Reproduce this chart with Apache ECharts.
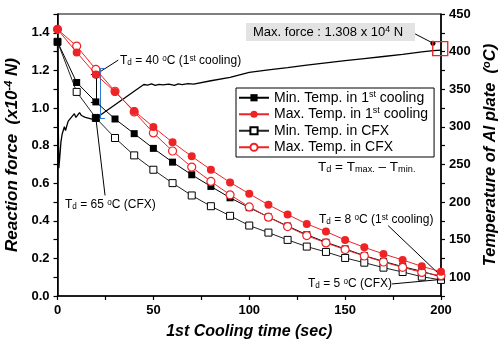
<!DOCTYPE html>
<html>
<head>
<meta charset="utf-8">
<script src="https://cdn.jsdelivr.net/npm/echarts@6/dist/echarts.min.js"></script>
<style>
  html, body { margin: 0; padding: 0; background: #fff; }
  #chart { width: 498px; height: 343px; }
</style>
</head>
<body>
<div id="chart"></div>
<script>
// sampling times of the temperature probes (sec)
const timeSec = [0, 10, 20, 30, 40, 50, 60, 70, 80, 90, 100, 110, 120, 130, 140, 150, 160, 170, 180, 190, 200];

// plate temperatures (deg C), right axis
const minTemp1st = [413, 358.9, 333.1, 310.4, 290.9, 271.3, 253, 236.2, 220.7, 205.6, 192.5, 180, 168, 156.5, 146.4, 137.6, 128.7, 121, 114, 107.8, 100.5];
const maxTemp1st = [429.6, 398.9, 369.6, 346.4, 321.1, 299.8, 279.3, 260.7, 242.9, 226, 211, 196.2, 183.3, 170.9, 160.7, 149.5, 139.8, 130.9, 122.9, 114.4, 107.3];
const minTempCFX = [413, 346.4, 311.8, 285.1, 262, 242.9, 225.1, 208.7, 194.4, 181.6, 168.7, 159.3, 149.6, 140.7, 133.6, 125.6, 119.3, 112.7, 106.9, 100.7, 96.4];
const maxTempCFX = [429.6, 407.3, 376.3, 347.3, 319.8, 291.8, 267.8, 246.4, 227.3, 209.6, 193.5, 179.8, 167.3, 155.3, 145.6, 136.7, 128.2, 120.2, 113.1, 106.4, 102];

// measured reaction force (x10^4 N), left axis
const forceTime = [0, 0.3, 0.7, 1.2, 1.8, 2.4, 3, 3.6, 4.2, 5, 5.6, 6.4, 7.2, 8, 8.8, 9.6, 10.5, 11.5, 12.5, 13.5, 14.5, 15.5, 16.5, 17.5, 18.5, 19.5, 20,
  45, 47, 49, 51, 53, 55, 58, 61, 63, 65, 68, 71, 72, 80, 90, 100, 110, 120, 130, 140, 150, 160, 170, 180, 190, 196, 200];
const forceValue = [1.34, 1.0, 0.68, 0.74, 0.82, 0.86, 0.88, 0.9, 0.88, 0.91, 0.93, 0.92, 0.95, 0.94, 0.97, 0.95, 0.96, 0.975, 0.96, 0.965, 0.95, 0.94, 0.945, 0.955, 0.94, 0.95, 0.945,
  1.125, 1.122, 1.128, 1.12, 1.126, 1.123, 1.127, 1.12, 1.128, 1.124, 1.13, 1.127, 1.132, 1.145, 1.163, 1.19, 1.203, 1.215, 1.228, 1.24, 1.252, 1.263, 1.274, 1.285, 1.298, 1.305, 1.308];

// tick labels
const xTicks = [0, 50, 100, 150, 200];
const forceTicks = ["0.0", "0.2", "0.4", "0.6", "0.8", "1.0", "1.2", "1.4"];
const tempTicks = [100, 150, 200, 250, 300, 350, 400, 450];

const FONT = "Liberation Sans, Arial, sans-serif";
const RED = "#ee2326";

const pairs = (xs, ys) => xs.map((x, i) => [x, ys[i]]);

const supSub = (size) => ({
  sup: { fontSize: size * 0.68, fontFamily: FONT, verticalAlign: "top", lineHeight: size * 0.8, fill: "#000", color: "#000" },
  sub: { fontSize: size * 0.68, fontFamily: FONT, verticalAlign: "bottom", lineHeight: size * 0.6, fill: "#000", color: "#000" },
});

const chart = echarts.init(document.getElementById("chart"));

const leader = (a, b) => [{ coord: a }, { coord: b }];
const lineMark = (segments, color) => ({
  silent: true,
  symbol: ["none", "none"],
  label: { show: false },
  emphasis: { disabled: true },
  lineStyle: { type: "solid", color: color, width: 1 },
  data: segments,
});

const tag = (x, y, text, size) => ({
  type: "text",
  x: x,
  y: y,
  style: {
    text: text,
    fontSize: size,
    fontFamily: FONT,
    fill: "#000",
    verticalAlign: "middle",
    rich: supSub(size),
  },
  z: 50,
});

const option = {
  animation: false,
  grid: {
    left: 57.5, right: 57, top: 14, bottom: 47,
    outerBoundsMode: "none",
    containLabel: false,
    show: true, borderColor: "#000", borderWidth: 1,
  },
  legend: {
    data: ["Min. Temp. in 1st cooling", "Max. Temp. in 1st cooling", "Min. Temp. in CFX", "Max. Temp. in CFX"],
    orient: "vertical",
    left: 236,
    top: 88,
    padding: [2, 6, 2, 2],
    itemWidth: 30,
    itemHeight: 9,
    itemGap: 1,
    borderColor: "#000",
    borderWidth: 1,
    selectedMode: false,
    formatter: (name) => name.replace("1st", "1{sup|st}"),
    textStyle: {
      fontFamily: FONT,
      fontSize: 14,
      color: "#000",
      lineHeight: 15.5,
      rich: { sup: { fontSize: 9, fontFamily: FONT, color: "#000", verticalAlign: "top", lineHeight: 10 } },
    },
  },
  xAxis: {
    type: "value",
    min: 0,
    max: 200,
    interval: 25,
    name: "1st Cooling time (sec)",
    nameLocation: "middle",
    nameGap: 28,
    nameTextStyle: { fontFamily: FONT, fontSize: 16, fontWeight: "bold", fontStyle: "italic", color: "#000" },
    axisLine: { onZero: false, lineStyle: { color: "#000", width: 1.6 } },
    axisTick: { length: 4, lineStyle: { color: "#000", width: 1.2 } },
    axisLabel: {
      margin: 8,
      color: "#000",
      fontFamily: FONT,
      fontSize: 13,
      fontWeight: "bold",
      formatter: (v) => (xTicks.includes(v) ? String(v) : ""),
    },
    splitLine: { show: false },
  },
  yAxis: [
    {
      type: "value",
      min: 0,
      max: 1.5,
      interval: 0.1,
      name: "Reaction force  (x10{sup|-4} N)",
      nameLocation: "middle",
      nameGap: 31,
      nameTextStyle: {
        fontFamily: FONT, fontSize: 17, fontWeight: "bold", fontStyle: "italic", color: "#000",
        rich: { sup: { fontFamily: FONT, fontSize: 11, fontWeight: "bold", fontStyle: "italic", color: "#000", verticalAlign: "top", lineHeight: 12 } },
      },
      axisLine: { show: true, onZero: false, lineStyle: { color: "#000", width: 1.6 } },
      axisTick: { show: true, length: 4, lineStyle: { color: "#000", width: 1.2 } },
      axisLabel: {
        margin: 8,
        color: "#000",
        fontFamily: FONT,
        fontSize: 13,
        fontWeight: "bold",
        formatter: (v) => {
          const s = v.toFixed(1);
          return forceTicks.includes(s) && Math.abs(v * 10 - Math.round(v * 10)) < 1e-6 ? s : "";
        },
      },
      splitLine: { show: false },
    },
    {
      type: "value",
      min: 75,
      max: 450,
      interval: 25,
      position: "right",
      name: "Temperature of Al plate  ({sup|o}C)",
      nameLocation: "middle",
      nameGap: 35,
      nameRotate: 90,
      nameTextStyle: {
        fontFamily: FONT, fontSize: 16.5, fontWeight: "bold", fontStyle: "italic", color: "#000",
        rich: { sup: { fontFamily: FONT, fontSize: 11, fontWeight: "bold", fontStyle: "italic", color: "#000", verticalAlign: "top", lineHeight: 12 } },
      },
      axisLine: { show: true, onZero: false, lineStyle: { color: "#000", width: 1.6 } },
      axisTick: { show: true, length: 4, lineStyle: { color: "#000", width: 1.2 } },
      axisLabel: {
        margin: 8,
        color: "#000",
        fontFamily: FONT,
        fontSize: 13,
        fontWeight: "bold",
        formatter: (v) => (tempTicks.includes(v) ? String(v) : ""),
      },
      splitLine: { show: false },
    },
  ],
  graphic: [
    { type: "rect", shape: { x: 246, y: 23, width: 169, height: 18 }, style: { fill: "#e3e3e3" }, z: 40 },
    tag(253, 32, "Max. force : 1.308 x 10{sup|4} N", 13),
    tag(120, 61, "T{sub|d} = 40 {sup|o}C (1{sup|st} cooling)", 12),
    tag(65, 205, "T{sub|d} = 65 {sup|o}C (CFX)", 12),
    tag(318, 167, "T{sub|d} = T{sub|max.} \u2013 T{sub|min.}", 13.5),
    tag(319, 220, "T{sub|d} = 8 {sup|o}C (1{sup|st} cooling)", 12),
    tag(308, 284, "T{sub|d} = 5 {sup|o}C (CFX)", 12),
  ],
  series: [
    {
      name: "Reaction force",
      type: "line",
      yAxisIndex: 0,
      showSymbol: false,
      symbol: "none",
      lineStyle: { color: "#000", width: 1.3 },
      itemStyle: { color: "#000" },
      z: 3,
      data: pairs(forceTime, forceValue),
      markLine: lineMark([leader([186.5, 1.394], [195.8, 1.345])], "#000"),
      markPoint: {
        silent: true,
        label: { show: false },
        data: [
          { coord: [195.8, 1.345], symbol: "circle", symbolSize: 5, itemStyle: { color: "#000" } },
          { coord: [199.6, 1.316], symbol: "rect", symbolSize: [15, 14], itemStyle: { color: "rgba(0,0,0,0)", borderColor: RED, borderWidth: 1.3 } },
        ],
      },
    },
    {
      name: "Min. Temp. in CFX",
      type: "line",
      yAxisIndex: 1,
      symbol: "rect",
      symbolSize: 7,
      lineStyle: { color: "#222", width: 1 },
      itemStyle: { color: "#fff", borderColor: "#000", borderWidth: 1 },
      z: 4,
      data: pairs(timeSec, minTempCFX),
      markLine: lineMark([
        leader([24.8, 208.7], [20, 311.8]),
        leader([174.4, 91], [200, 97]),
      ], "#000"),
      markPoint: {
        silent: true,
        label: { show: false },
        data: [{ coord: [20, 311.8], symbol: "rect", symbolSize: 7, itemStyle: { color: "#000" } }],
      },
    },
    {
      name: "Min. Temp. in 1st cooling",
      type: "line",
      yAxisIndex: 1,
      symbol: "rect",
      symbolSize: 7,
      lineStyle: { color: "#000", width: 1 },
      itemStyle: { color: "#000" },
      z: 5,
      data: pairs(timeSec, minTemp1st),
      markLine: lineMark([
        leader([20, 333.1], [20, 369.6]),
        leader([17.4, 369.6], [20, 369.6]),
        leader([17.4, 333.1], [20, 333.1]),
        leader([31.7, 388.7], [20, 369.6]),
        leader([172.4, 168.7], [200, 101.6]),
      ], "#000"),
    },
    {
      name: "Max. Temp. in CFX",
      type: "line",
      yAxisIndex: 1,
      symbol: "circle",
      symbolSize: 8,
      lineStyle: { color: RED, width: 1 },
      itemStyle: { color: "#fff", borderColor: RED, borderWidth: 1.2 },
      z: 6,
      data: pairs(timeSec, maxTempCFX),
      markLine: lineMark([
        leader([22.2, 311], [22.2, 377.6]),
        leader([19.7, 377.6], [24.7, 377.6]),
        leader([19.7, 311], [24.7, 311]),
      ], "#2b7bd6"),
    },
    {
      name: "Max. Temp. in 1st cooling",
      type: "line",
      yAxisIndex: 1,
      symbol: "circle",
      symbolSize: 8,
      lineStyle: { color: RED, width: 1 },
      itemStyle: { color: RED },
      z: 7,
      data: pairs(timeSec, maxTemp1st),
      markPoint: {
        silent: true,
        label: { show: false },
        data: [
          { coord: [20, 369.6], symbol: "circle", symbolSize: 8, itemStyle: { color: "#000" } },
          { coord: [200, 101.6], symbol: "circle", symbolSize: 7, itemStyle: { color: "#000" } },
        ],
      },
    },
  ],
};

chart.setOption(option);
window.addEventListener("resize", () => chart.resize());
</script>
</body>
</html>
